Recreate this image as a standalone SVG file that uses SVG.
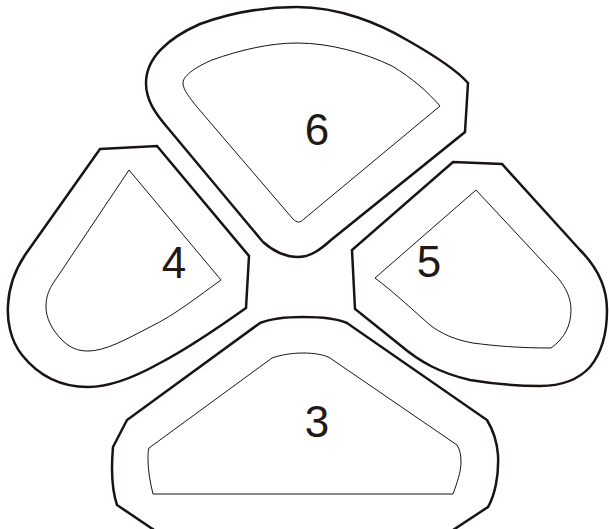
<svg xmlns="http://www.w3.org/2000/svg" width="609" height="529" viewBox="0 0 609 529">
<style>
.outer{fill:none;stroke:#1a1311;stroke-width:2.5;stroke-linejoin:miter}
.inner{fill:none;stroke:#1a1311;stroke-width:1}
.lbl{font-family:"Liberation Sans",Arial,sans-serif;font-size:44px;fill:#231815;text-anchor:middle}
</style>
<rect width="609" height="529" fill="#ffffff"/>
<g id="node-6">
<path class="outer" d="M468,83 L465,132 L331,240 C320,250 310,257 298,257 C285,257 272,250 263,242 L167,127 C155,113 146,100 146,83 C146,58 168,38 200,24 C230,13 265,7 297,7 C340,7 380,24 407,40 C430,53 455,68 468,83 Z"/>
<path class="inner" d="M440,106 L304,219 C300,223 297,223 293,219 L197,107 C190,98 183,90 183,83 C183,75 198,66 212,60 C240,50 270,43 297,43 C330,43 365,53 392,66 C412,78 428,92 440,106 Z"/>
<text class="lbl" x="317" y="145">6</text>
</g>
<g id="node-4">
<path class="outer" d="M100,149 L157,146 L249,256 L246,308 C215,330 185,350 160,363 C135,377 110,387 88,387 C60,387 38,375 22,355 C10,340 7,320 8,305 C9,285 15,270 25,255 Z"/>
<path class="inner" d="M129,170 L221,280 C200,295 175,315 150,327 C125,340 105,351 88,351 C78,351 70,348 62,340 C52,330 46,318 46,307 C46,298 48,292 52,285 Z"/>
<text class="lbl" x="174" y="278">4</text>
</g>
<g id="node-5">
<path class="outer" d="M453,162 L502,164 L580,250 C595,265 607,285 607,310 C607,335 600,355 590,367 C578,380 560,386 540,386 C520,386 500,385 470,380 C440,373 420,362 400,345 L355,309 L352,250 Z"/>
<path class="inner" d="M476,190 L558,278 C566,288 571,298 571,310 C571,325 565,338 551,348 C520,348 495,346 473,343 C455,340 440,333 430,325 C415,312 395,293 375,278 Z"/>
<text class="lbl" x="429" y="277">5</text>
</g>
<g id="node-3">
<path class="outer" d="M303,317 C320,317 338,319 347,323 L487,420 C493,430 497,440 498,455 C499,475 495,495 488,507 L444,536 L163,536 L117,505 C112,490 111,470 113,447 L127,420 L260,323 C270,319 285,317 303,317 Z"/>
<path class="inner" d="M303,353 C315,353 325,355 330,358 L457,445 C460,450 461,455 461,462 C461,472 457,483 453,494 L153,494 C150,482 148,470 148,460 C148,455 148,450 149,448 L272,358 C280,355 292,353 303,353 Z"/>
<text class="lbl" x="317" y="437">3</text>
</g>
<g id="connectors"></g>
</svg>
